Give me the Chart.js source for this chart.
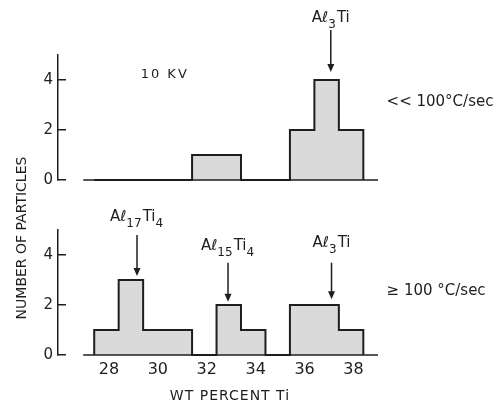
<!DOCTYPE html>
<html><head><meta charset="utf-8">
<script src="https://cdn.jsdelivr.net/npm/chart.js@4.4.1/dist/chart.umd.min.js"></script>
<style>
html,body{margin:0;padding:0;background:#fff;}
#wrap{position:relative;width:501px;height:406px;overflow:hidden;}
canvas{position:absolute;left:0;top:0;}
</style></head><body>
<div id="wrap"><canvas id="cTop" width="501" height="406"></canvas><canvas id="cBot" width="501" height="406"></canvas></div>
<script>
// ---- data ----
const binStarts = [27.4, 28.4, 29.4, 30.4, 31.4, 32.4, 33.4, 34.4, 35.4, 36.4, 37.4];
const binWidth = 1;
const slowCounts = [0, 0, 0, 0, 1, 1, 0, 0, 2, 4, 2];   // << 100 °C/sec
const fastCounts = [1, 3, 1, 1, 0, 2, 1, 0, 2, 2, 1];   // >= 100 °C/sec
const xTickValues = [28, 30, 32, 34, 36, 38];
const yTickValues = [0, 2, 4];
const baselineRange = [26.95, 39.0];

const slowPhases = [
  {parts: [['Aℓ', 0], ['3', 1], ['Ti', 0]], x: 37.07, label: 6.32, from: 6.0, to: 4.32}
];
const fastPhases = [
  {parts: [['Aℓ', 0], ['17', 1], ['Ti', 0], ['4', 1]], x: 29.15, label: 5.36, from: 4.8, to: 3.16},
  {parts: [['Aℓ', 0], ['15', 1], ['Ti', 0], ['4', 1]], x: 32.87, label: 4.2, from: 3.69, to: 2.13},
  {parts: [['Aℓ', 0], ['3', 1], ['Ti', 0]], x: 37.1, label: 4.33, from: 3.69, to: 2.23}
];

const FONT = '"DejaVu Sans", "Liberation Sans", sans-serif';
const INK = '#1e1e1e';
const FILL = '#dadada';

function stepPoints(counts) {
  const pts = [{x: binStarts[0], y: 0}];
  counts.forEach((c, i) => pts.push({x: binStarts[i], y: c}));
  pts.push({x: binStarts[binStarts.length - 1] + binWidth, y: 0});
  return pts;
}

function drawRich(ctx, parts, cx, baseY) {
  const big = '15px ' + FONT, small = '12px ' + FONT;
  let w = 0;
  parts.forEach(([t, s]) => { ctx.font = s ? small : big; w += ctx.measureText(t).width + (s ? 1 : 0); });
  let x = cx - w / 2;
  ctx.textAlign = 'left';
  ctx.textBaseline = 'alphabetic';
  parts.forEach(([t, s]) => {
    ctx.font = s ? small : big;
    ctx.fillText(t, x, baseY + (s ? 6 : 0));
    x += ctx.measureText(t).width + (s ? 1 : 0);
  });
}

function drawArrow(ctx, x, y1, y2) {
  ctx.beginPath();
  ctx.moveTo(x, y1);
  ctx.lineTo(x, y2 - 6);
  ctx.lineWidth = 1.5;
  ctx.strokeStyle = INK;
  ctx.stroke();
  ctx.beginPath();
  ctx.moveTo(x - 3.5, y2 - 8);
  ctx.lineTo(x + 3.5, y2 - 8);
  ctx.lineTo(x, y2);
  ctx.closePath();
  ctx.fillStyle = INK;
  ctx.fill();
}

function annotations(phases, extras) {
  return {
    id: 'annot',
    afterDraw(chart) {
      const ctx = chart.ctx, xs = chart.scales.x, ys = chart.scales.y;
      ctx.save();
      ctx.fillStyle = INK;
      phases.forEach(p => {
        drawRich(ctx, p.parts, xs.getPixelForValue(p.x), ys.getPixelForValue(p.label));
        drawArrow(ctx, xs.getPixelForValue(p.x), ys.getPixelForValue(p.from), ys.getPixelForValue(p.to));
      });
      ctx.fillStyle = INK;
      extras(ctx, xs, ys);
      ctx.restore();
    }
  };
}

function makeChart(id, counts, padTop, padBottom, showX, phases, extras) {
  return new Chart(document.getElementById(id), {
    type: 'line',
    data: {
      datasets: [
        {data: [{x: baselineRange[0], y: 0}, {x: baselineRange[1], y: 0}], borderColor: INK, borderWidth: 1.6,
         pointRadius: 0, fill: false, clip: false},
        {data: stepPoints(counts), stepped: true, borderColor: INK, borderWidth: 2, backgroundColor: FILL,
         fill: 'origin', pointRadius: 0, borderJoinStyle: 'miter', clip: false}
      ]
    },
    options: {
      responsive: false, animation: false, events: [],
      layout: {padding: {top: padTop, bottom: padBottom, left: 0, right: 123}},
      plugins: {legend: {display: false}, tooltip: {enabled: false}},
      scales: {
        x: {
          type: 'linear', min: 25.92, max: 39.0, display: showX,
          afterBuildTicks: s => { s.ticks = xTickValues.map(v => ({value: v})); },
          afterFit: s => { s.height = showX ? 51 : 0; },
          grid: {display: false, drawTicks: false},
          border: {display: false},
          ticks: {font: {family: FONT, size: 16}, color: INK, padding: 5, maxRotation: 0, autoSkip: false}
        },
        y: {
          min: 0, max: 5,
          afterBuildTicks: s => { s.ticks = yTickValues.map(v => ({value: v})); },
          afterFit: s => { s.width = 58; },
          grid: {display: true, drawOnChartArea: false, drawTicks: true, tickLength: -8, color: INK, lineWidth: 1.5},
          border: {display: true, color: INK, width: 1.5},
          ticks: {font: {family: FONT, size: 15}, color: INK, padding: 13}
        }
      }
    },
    plugins: [annotations(phases, extras)]
  });
}

makeChart('cTop', slowCounts, 55, 226, false, slowPhases, (ctx, xs, ys) => {
  ctx.font = '13px ' + FONT;
  ctx.textAlign = 'left'; ctx.textBaseline = 'middle';
  try { ctx.letterSpacing = '2px'; } catch (e) {}
  ctx.fillText('10 KV', xs.getPixelForValue(29.3), ys.getPixelForValue(4.2));
  try { ctx.letterSpacing = '0px'; } catch (e) {}
  ctx.font = '15px ' + FONT;
  ctx.fillText('<< 100°C/sec', xs.getPixelForValue(39.35), ys.getPixelForValue(3.12));
});

makeChart('cBot', fastCounts, 230, 0, true, fastPhases, (ctx, xs, ys) => {
  ctx.font = '15px ' + FONT;
  ctx.textAlign = 'left'; ctx.textBaseline = 'middle';
  ctx.fillText('≥ 100 °C/sec', xs.getPixelForValue(39.35), ys.getPixelForValue(2.56));
  ctx.textAlign = 'center';
  ctx.font = '14px ' + FONT;
  try { ctx.letterSpacing = '1px'; } catch (e) {}
  ctx.fillText('WT PERCENT Ti', 230, 396);
  try { ctx.letterSpacing = '0px'; } catch (e) {}
  ctx.save();
  ctx.translate(22, 238);
  ctx.rotate(-Math.PI / 2);
  ctx.font = '14px ' + FONT;
  ctx.fillText('NUMBER OF PARTICLES', 0, 0);
  ctx.restore();
});
</script>
</body></html>
